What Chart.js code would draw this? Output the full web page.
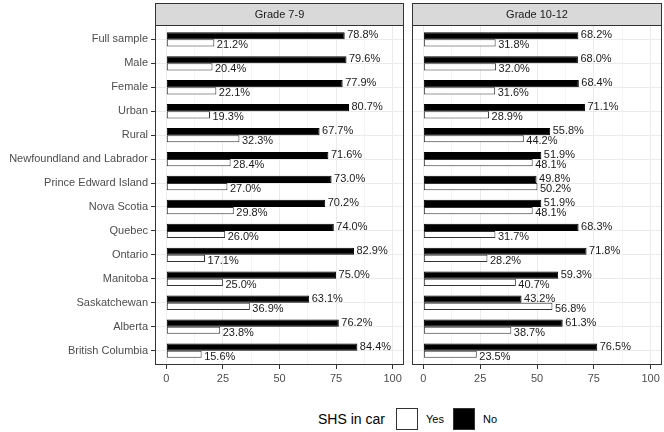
<!DOCTYPE html>
<html>
<head>
<meta charset="utf-8">
<script src="https://cdn.jsdelivr.net/npm/chart.js@4.4.0/dist/chart.umd.min.js"></script>
<style>
  body { margin: 0; background: #fff; }
  #wrap { position: relative; width: 664px; height: 432px; font-family: "Liberation Sans", Arial, sans-serif; }
  #c1 { position: absolute; left: 0; top: 0; }
  #c2 { position: absolute; left: 408px; top: 0; }
  .lg { position: absolute; color: #000; }
  .key { position: absolute; width: 20px; height: 20px; border: 1px solid #333; }
</style>
</head>
<body>
<div id="wrap">
  <canvas id="c1" width="408" height="395"></canvas>
  <canvas id="c2" width="256" height="395"></canvas>
  <div class="lg" style="left:318px; top:411px; font-size:14px; line-height:16px;">SHS in car</div>
  <div class="key" style="left:396px; top:408px; background:#fff;"></div>
  <div class="lg" style="left:426px; top:413px; font-size:11px; line-height:13px;">Yes</div>
  <div class="key" style="left:453px; top:408px; background:#000;"></div>
  <div class="lg" style="left:483px; top:413px; font-size:11px; line-height:13px;">No</div>
</div>
<script>
// categories, top to bottom
const categories = ['Full sample', 'Male', 'Female', 'Urban', 'Rural', 'Newfoundland and Labrador',
    'Prince Edward Island', 'Nova Scotia', 'Quebec', 'Ontario', 'Manitoba', 'Saskatchewan',
    'Alberta', 'British Columbia'];

// Grade 7-9
const noG79  = [78.8, 79.6, 77.9, 80.7, 67.7, 71.6, 73.0, 70.2, 74.0, 82.9, 75.0, 63.1, 76.2, 84.4];
const yesG79 = [21.2, 20.4, 22.1, 19.3, 32.3, 28.4, 27.0, 29.8, 26.0, 17.1, 25.0, 36.9, 23.8, 15.6];

// Grade 10-12
const noG1012  = [68.2, 68.0, 68.4, 71.1, 55.8, 51.9, 49.8, 51.9, 68.3, 71.8, 59.3, 43.2, 61.3, 76.5];
const yesG1012 = [31.8, 32.0, 31.6, 28.9, 44.2, 48.1, 50.2, 48.1, 31.7, 28.2, 40.7, 56.8, 38.7, 23.5];

const xTicks = [0, 12.5, 25, 37.5, 50, 62.5, 75, 87.5, 100];

const FONT = '"Liberation Sans", Arial, sans-serif';

// strip on top + panel border + value labels
const panelDeco = {
    id: 'panelDeco',
    afterDraw(chart, args, opts) {
        const ctx = chart.ctx;
        const a = chart.chartArea;
        ctx.save();
        // strip
        ctx.fillStyle = '#D9D9D9';
        ctx.fillRect(a.left, 3, a.right - a.left, a.top - 3);
        ctx.strokeStyle = '#333333';
        ctx.lineWidth = 1;
        ctx.strokeRect(a.left + 0.5, 3.5, a.right - a.left - 1, a.top - 3);
        ctx.fillStyle = '#1A1A1A';
        ctx.font = '11px ' + FONT;
        ctx.textAlign = 'center';
        ctx.textBaseline = 'middle';
        ctx.fillText(opts.title, (a.left + a.right) / 2, (a.top + 3) / 2 + 1);
        // panel border
        ctx.strokeRect(a.left + 0.5, a.top + 0.5, a.right - a.left - 1, a.bottom - a.top - 1);
        // value labels
        ctx.textAlign = 'left';
        ctx.textBaseline = 'alphabetic';
        chart.data.datasets.forEach((ds, di) => {
            const meta = chart.getDatasetMeta(di);
            meta.data.forEach((bar, i) => {
                const v = ds.data[i].x;
                const dy = di === 0 ? 2.5 : 5.5;
                ctx.fillText(v.toFixed(1) + '%', bar.x + 2.5, bar.y + dy);
            });
        });
        ctx.restore();
    }
};

function makeChart(id, title, noVals, yesVals, showY) {
    return new Chart(document.getElementById(id), {
        type: 'bar',
        data: {
            datasets: [{
                label: 'No',
                data: noVals.map((v, i) => ({ x: v, y: i })),
                backgroundColor: '#000000',
                borderColor: '#000000',
                borderWidth: 1,
                borderSkipped: false
            }, {
                label: 'Yes',
                data: yesVals.map((v, i) => ({ x: v, y: i })),
                backgroundColor: '#FFFFFF',
                borderColor: '#333333',
                borderWidth: 1,
                borderSkipped: false
            }]
        },
        options: {
            indexAxis: 'y',
            responsive: false,
            animation: false,
            layout: { padding: { top: 25, right: showY ? 4 : 2, left: showY ? 0 : 4, bottom: 0 } },
            categoryPercentage: 0.6,
            barPercentage: 1.0,
            scales: {
                x: {
                    type: 'linear',
                    min: -5,
                    max: 105,
                    afterBuildTicks: s => { s.ticks = xTicks.map(v => ({ value: v })); },
                    afterFit: s => { s.height = 30; },
                    border: { display: false },
                    grid: {
                        color: '#EBEBEB',
                        lineWidth: c => (c.tick && c.tick.value % 25 === 0) ? 1 : 0.5,
                        tickColor: c => (c.tick && c.tick.value % 25 === 0) ? '#333333' : 'rgba(0,0,0,0)',
                        tickLength: 4
                    },
                    ticks: {
                        autoSkip: false,
                        maxRotation: 0,
                        padding: 3,
                        color: '#4D4D4D',
                        font: { family: FONT, size: 11 },
                        callback: v => (v % 25 === 0) ? String(v) : ''
                    }
                },
                y: {
                    type: 'linear',
                    reverse: true,
                    offset: false,
                    min: -0.6,
                    max: categories.length - 0.4,
                    afterBuildTicks: s => { s.ticks = categories.map((c, i) => ({ value: i })); },
                    afterFit: s => { s.width = showY ? 155 : 0; },
                    border: { display: false },
                    grid: {
                        offset: false,
                        color: '#EBEBEB',
                        lineWidth: 1,
                        drawTicks: showY,
                        tickColor: '#333333',
                        tickLength: 4
                    },
                    ticks: {
                        display: showY,
                        autoSkip: false,
                        padding: 3,
                        color: '#4D4D4D',
                        font: { family: FONT, size: 11 },
                        callback: v => categories[v]
                    }
                }
            },
            plugins: {
                legend: { display: false },
                tooltip: { enabled: false },
                panelDeco: { title: title }
            }
        },
        plugins: [panelDeco]
    });
}

makeChart('c1', 'Grade 7-9', noG79, yesG79, true);
makeChart('c2', 'Grade 10-12', noG1012, yesG1012, false);
</script>
</body>
</html>
